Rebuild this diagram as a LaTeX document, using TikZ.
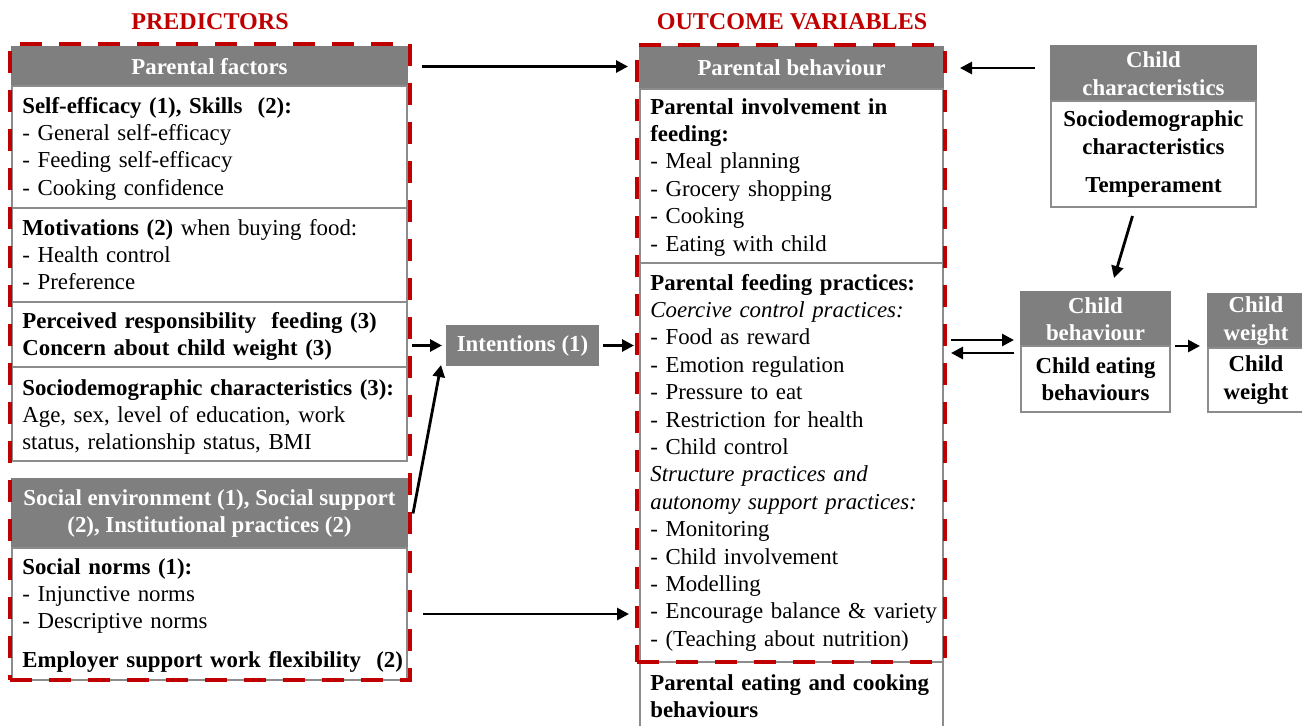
\documentclass[tikz,border=0pt]{standalone}
\usepackage{fontspec}
\setmainfont{Liberation Serif}
\usetikzlibrary{arrows.meta}
\definecolor{hdrgray}{RGB}{127,127,127}
\definecolor{bordgray}{RGB}{140,140,140}
\definecolor{dred}{RGB}{192,0,0}
\newcommand\mybox[7]{\node[#6, anchor=north west, inner sep=0pt, outer sep=0pt, minimum width={(#4-(#2))*0.02cm}, minimum height={(#5-(#3))*0.02cm}] (#1) at (#2,#3) {#7};}
\tikzset{
  hdr/.style={fill=hdrgray, draw=hdrgray, line width=0.6pt, text=white, font=\fontsize{13}{15.6}\selectfont\bfseries, align=center},
  wbox/.style={fill=white, draw=bordgray, line width=0.9pt},
  cbox/.style={wbox, font=\fontsize{13}{15.6}\selectfont\bfseries, align=center},
  txt/.style={anchor=base west, inner sep=0pt, text width=8cm, align=left, font=\fontsize{13}{15.6}\selectfont},
  reddash/.style={draw=dred, line width=2.6pt, dash pattern=on 0.44cm off 0.34cm},
  arr/.style={-{Triangle[length=2.4mm,width=2.4mm]}, line width=1.6pt},
  ttl/.style={text=dred, inner sep=0pt, font=\fontsize{13.7}{16}\selectfont\bfseries}
}
\begin{document}
\begin{tikzpicture}[x=0.02cm, y=-0.02cm]
\useasboundingbox (0,0) rectangle (1302,725);
% titles
\node[ttl] (tp) at (210,22) {PREDICTORS};
\node[ttl] (to) at (792,22) {OUTCOME VARIABLES};
% left column
\mybox{pfh}{12}{47}{407}{86}{hdr}{Parental factors}
\mybox{b1}{12}{86}{407}{208}{wbox}{}
\mybox{b2}{12}{208}{407}{302}{wbox}{}
\mybox{b3}{12}{302}{407}{367}{wbox}{}
\mybox{b4}{12}{367}{407}{461}{wbox}{}
\mybox{seh}{12}{479}{407}{548}{hdr}{Social environment (1), Social support\\(2), Institutional practices (2)}
\mybox{b7}{12}{548}{407}{680}{wbox}{}
% middle column
\mybox{pbh}{640}{47}{943}{89}{hdr}{Parental behaviour}
\mybox{b5}{640}{89}{943}{263}{wbox}{}
\mybox{b6}{640}{263}{943}{662}{wbox}{}
\mybox{b8}{640}{662}{943}{740}{wbox}{}
% intentions
\mybox{int}{447}{326}{598}{365}{hdr}{Intentions (1)}
% child boxes
\mybox{cch}{1051}{46}{1256}{101}{hdr}{Child\\characteristics}
\mybox{ccw}{1051}{101}{1256}{207}{cbox}{Sociodemographic\\characteristics\\[6pt]Temperament}
\mybox{cbh}{1021}{292}{1170}{346}{hdr}{Child\\behaviour}
\mybox{cbw}{1021}{346}{1170}{412}{cbox}{Child eating\\behaviours}
\mybox{cwh}{1208}{294}{1304}{348}{hdr}{Child\\weight}
\mybox{cww}{1208}{348}{1304}{412}{cbox}{Child\\weight}
% texts
\node[txt] (t1) at (22,113) {\textbf{Self-efficacy (1), Skills\ \ (2):}\\- General self-efficacy\\- Feeding self-efficacy\\- Cooking confidence};
\node[txt] (t2) at (22,235) {\textbf{Motivations (2)} when buying food:\\- Health\ control\\- Preference};
\node[txt] (t3) at (22,328) {\textbf{Perceived responsibility\ \ feeding (3)}\\\textbf{Concern about child weight (3)}};
\node[txt] (t4) at (22,395) {\textbf{Sociodemographic characteristics (3):}\\Age, sex, level of education, work\\status, relationship status, BMI};
\node[txt] (t7) at (22,574) {\textbf{Social norms (1):}\\- Injunctive norms\\- Descriptive norms\\[6.5pt]\textbf{Employer support work flexibility\ \ (2)}};
\node[txt] (t5) at (650,114) {\textbf{Parental involvement in}\\\textbf{feeding:}\\- Meal planning\\- Grocery shopping\\- Cooking\\- Eating with child};
\node[txt] (t6) at (650,290) {\textbf{Parental feeding practices:}\\\textit{Coercive control practices:}\\- Food as reward\\- Emotion regulation\\- Pressure to eat\\- Restriction for health\\- Child control\\\textit{Structure practices and}\\\textit{autonomy support practices:}\\- Monitoring\\- Child involvement\\- Modelling\\- Encourage balance \& variety\\- (Teaching about nutrition)};
\node[txt] (t8) at (650,690) {\textbf{Parental eating and cooking}\\\textbf{behaviours}};
% red dashed frames
\mybox{redL}{10}{44}{410}{680}{reddash}{}
\mybox{redM}{637}{45}{945}{662}{reddash}{}
% arrows
\draw[arr, shorten <=0.3cm, shorten >=0.24cm] (pfh.east) -- (pfh.east -| pbh.west);
\draw[arr, shorten <=0.32cm, shorten >=0.34cm] (cch.west |- pbh.east) -- (pbh.east);
\draw[arr, shorten <=0.1cm, shorten >=0.1cm] (b3.east |- int.west) -- (int.west);
\draw[arr, shorten <=0.1cm, shorten >=0.12cm] (int.east) -- (int.east -| b6.west);
\draw[arr] ([xshift=0.12cm]seh.east) -- ([xshift=-0.12cm]int.south west);
\draw[arr, shorten <=0.32cm, shorten >=0.22cm] (b7.east) -- (b7.east -| b6.west);
\draw[arr] ([shift={(-21,9)}]ccw.south) -- ([shift={(18.5,-14)}]cbh.north);
\draw[arr, shorten <=0.16cm, shorten >=0.14cm] ([yshift=0.12cm]cbh.south west -| b6.east) -- ([yshift=0.12cm]cbh.south west);
\draw[arr, shorten <=0.14cm, shorten >=0.16cm] ([yshift=-0.14cm]cbh.south west) -- ([yshift=-0.14cm]cbh.south west -| b6.east);
\draw[arr, shorten <=0.1cm, shorten >=0.16cm] (cbh.south east) -- (cbh.south east -| cwh.west);
\end{tikzpicture}
\end{document}
